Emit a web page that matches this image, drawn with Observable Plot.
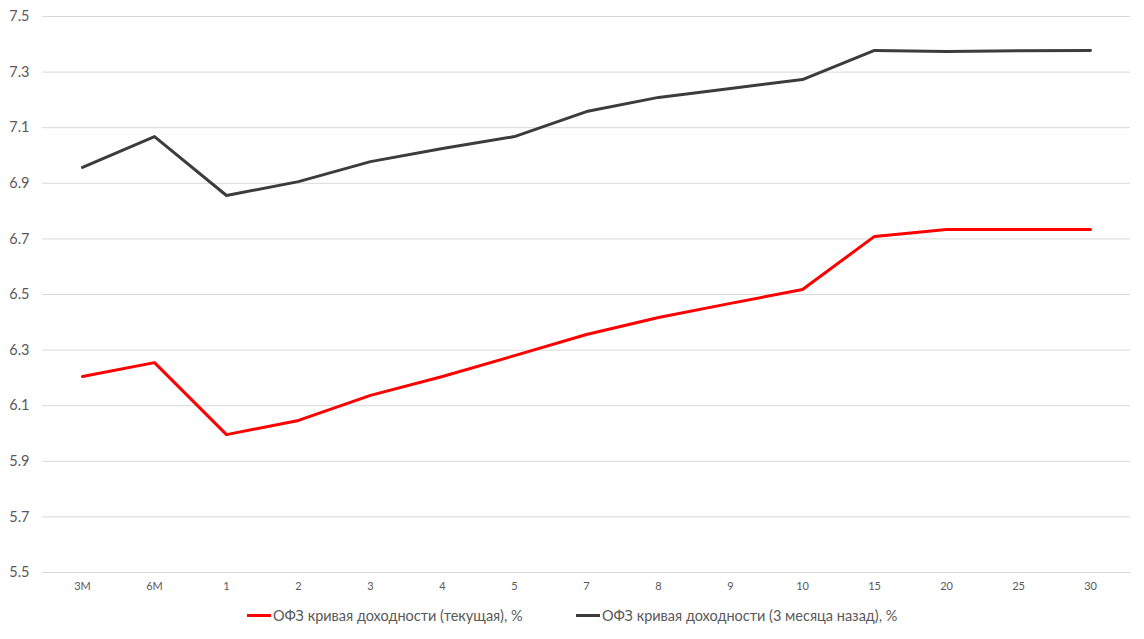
<!DOCTYPE html>
<html>
<head>
<meta charset="utf-8">
<script src="https://cdn.jsdelivr.net/npm/d3@7"></script>
<script src="https://cdn.jsdelivr.net/npm/@observablehq/plot@0.6"></script>
<style>
  html, body { margin: 0; padding: 0; background: #fff; }
  body { width: 1144px; height: 639px; overflow: hidden; font-family: Lato, "Open Sans", sans-serif; }
  #chart svg { display: block; }
  .legend { position: absolute; top: 605px; left: 0; width: 1144px; height: 20px; font-size: 14.5px; color: #595959; }
  .legend .item { position: absolute; top: 0; display: flex; align-items: center; height: 20px; white-space: nowrap; }
  .legend .sw { width: 24px; height: 3px; margin-right: 2px; }
</style>
</head>
<body>
<div id="chart"></div>
<div class="legend">
  <div class="item" style="left:247px"><span class="sw" style="background:#ff0000"></span><span id="l1"></span></div>
  <div class="item" style="left:576px"><span class="sw" style="background:#3c3c3c"></span><span id="l2"></span></div>
</div>
<script>
const categories = ["3M", "6M", "1", "2", "3", "4", "5", "7", "8", "9", "10", "15", "20", "25", "30"];
const currentYield = [6.205, 6.255, 5.996, 6.047, 6.137, 6.205, 6.28, 6.356, 6.417, 6.468, 6.518, 6.709, 6.734, 6.734, 6.734];
const prevYield = [6.957, 7.068, 6.856, 6.906, 6.978, 7.025, 7.068, 7.158, 7.209, 7.241, 7.273, 7.378, 7.374, 7.377, 7.378];
const seriesNames = ["ОФЗ кривая доходности (текущая), %", "ОФЗ кривая доходности (3 месяца назад), %"];
const seriesColors = ["#ff0000", "#3c3c3c"];
const yTicks = [5.5, 5.7, 5.9, 6.1, 6.3, 6.5, 6.7, 6.9, 7.1, 7.3, 7.5];

const rows = [];
categories.forEach((c, i) => {
  rows.push({cat: c, value: currentYield[i], series: seriesNames[0]});
  rows.push({cat: c, value: prevYield[i], series: seriesNames[1]});
});

document.getElementById("l1").textContent = seriesNames[0];
document.getElementById("l2").textContent = seriesNames[1];

const chart = Plot.plot({
  width: 1144,
  height: 600,
  marginLeft: 42,
  marginRight: 14,
  marginTop: 16,
  marginBottom: 28,
  style: {fontFamily: "Lato, 'Open Sans', sans-serif", background: "#fff"},
  x: {type: "point", domain: categories, padding: 0.5, label: null},
  y: {domain: [5.5, 7.5], label: null},
  color: {domain: seriesNames, range: seriesColors},
  marks: [
    Plot.gridY(yTicks, {stroke: "#d9d9d9", strokeOpacity: 1, strokeWidth: 1}),
    Plot.axisY(yTicks, {tickSize: 0, tickPadding: 13, tickFormat: d3.format(".1f"), fontSize: 14.5, fill: "#595959", label: null}),
    Plot.axisX({tickSize: 0, tickPadding: 10, fontSize: 11, fill: "#595959", label: null}),
    Plot.line(rows, {x: "cat", y: "value", z: "series", stroke: "series", strokeWidth: 3, strokeLinejoin: "round", strokeLinecap: "round"})
  ]
});
document.getElementById("chart").appendChild(chart);
</script>
</body>
</html>
